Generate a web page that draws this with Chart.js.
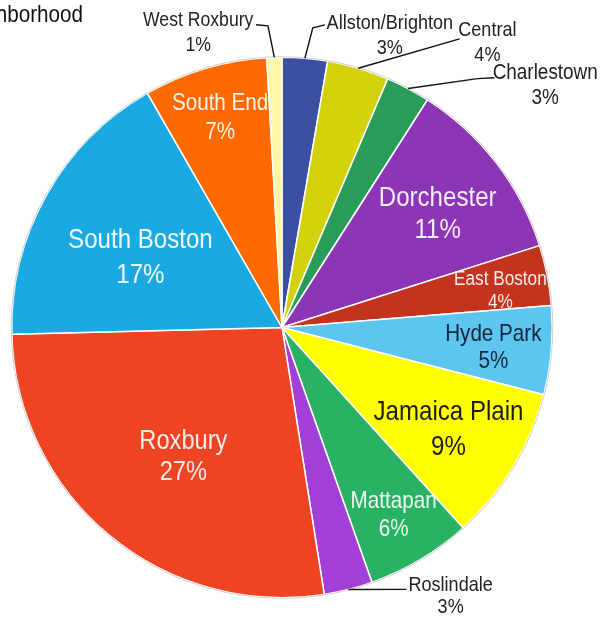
<!DOCTYPE html>
<html>
<head>
<meta charset="utf-8">
<script src="https://cdn.jsdelivr.net/npm/chart.js@4/dist/chart.umd.min.js"></script>
<style>
  html, body { margin: 0; padding: 0; background: #fff; }
  #wrap { width: 600px; height: 617px; position: relative; }
</style>
</head>
<body>
<div id="wrap"><canvas id="pie" width="600" height="617"></canvas></div>
<script>
// data, clockwise from 12 o'clock
const neighborhoods = ['Allston/Brighton', 'Central', 'Charlestown', 'Dorchester', 'East Boston',
    'Hyde Park', 'Jamaica Plain', 'Mattapan', 'Roslindale', 'Roxbury', 'South Boston',
    'South End', 'West Roxbury'];
const shares = [2.7, 3.7, 2.65, 11.05, 3.6, 5.3, 9.3, 6.3, 2.9, 27.1, 17.1, 7.4, 0.9];
const sliceColors = ['#3d4fa0', '#d2d20c', '#2a9c5a', '#8c36b6', '#c3341f', '#5cc6ee',
    '#ffff00', '#29b263', '#a23fd6', '#ee4423', '#1aa9e2', '#ff6a00', '#fff6a8'];
const chartTitle = 'Neighborhood';

// label layout: block centre as fraction of radius from pie centre
const labelStyle = [
    { fx: 0.399, fy: -1.081, size: 21, gap: 25, color: '#222', leader: [[0.159, -1.120], [0.114, -1.109]] },
    { fx: 0.760, fy: -1.052, size: 21, gap: 25, color: '#222', leader: [[0.657, -1.068]] },
    { fx: 0.974, fy: -0.897, size: 22, gap: 25, color: '#222', leader: [[0.786, -0.924], [0.723, -0.921]] },
    { fx: 0.576, fy: -0.419, size: 28, gap: 32, color: '#f4ecf8' },
    { fx: 0.808, fy: -0.135, size: 20, gap: 23, color: '#fbeeea' },
    { fx: 0.782, fy: 0.076, size: 24, gap: 27, color: '#15223d' },
    { fx: 0.616, fy: 0.378, size: 28, gap: 35, color: '#1c1c10' },
    { fx: 0.413, fy: 0.695, size: 24, gap: 28, color: '#eefaf2' },
    { fx: 0.624, fy: 0.996, size: 21, gap: 22, color: '#222', leader: [[0.461, 0.969]] },
    { fx: -0.365, fy: 0.480, size: 27.5, gap: 31, color: '#fbece8' },
    { fx: -0.524, fy: -0.258, size: 28, gap: 35, color: '#f2fbff' },
    { fx: -0.229, fy: -0.777, size: 24, gap: 29, color: '#fff2e8' },
    { fx: -0.310, fy: -1.089, size: 20.5, gap: 25, color: '#222', leader: [[-0.096, -1.120], [-0.052, -1.116]] }
];

const FONT = '"Liberation Sans", Arial, sans-serif';
const SQUEEZE = 0.86;

function drawText(ctx, text, x, y, size, color) {
    ctx.save();
    ctx.translate(x, y);
    ctx.scale(SQUEEZE, 1);
    ctx.font = size + 'px ' + FONT;
    ctx.fillStyle = color;
    ctx.textAlign = 'center';
    ctx.textBaseline = 'middle';
    ctx.fillText(text, 0, 0);
    ctx.restore();
}

const sliceLabels = {
    id: 'sliceLabels',
    afterDatasetsDraw(chart) {
        const ctx = chart.ctx;
        const arcs = chart.getDatasetMeta(0).data;
        const cx = arcs[0].x, cy = arcs[0].y, r = arcs[0].outerRadius;

        // faint rim
        ctx.save();
        ctx.beginPath();
        ctx.arc(cx, cy, r + 0.5, 0, Math.PI * 2);
        ctx.strokeStyle = 'rgba(150,150,150,0.45)';
        ctx.lineWidth = 1;
        ctx.stroke();
        ctx.restore();

        arcs.forEach((arc, i) => {
            const st = labelStyle[i];
            const bx = cx + st.fx * r, by = cy + st.fy * r;
            const pct = Math.round(shares[i]) + '%';

            if (st.leader) {
                const mid = (arc.startAngle + arc.endAngle) / 2;
                ctx.save();
                ctx.beginPath();
                st.leader.forEach((p, k) => {
                    const px = cx + p[0] * r, py = cy + p[1] * r;
                    k === 0 ? ctx.moveTo(px, py) : ctx.lineTo(px, py);
                });
                ctx.lineTo(cx + Math.cos(mid) * r, cy + Math.sin(mid) * r);
                ctx.strokeStyle = '#111';
                ctx.lineWidth = 1.4;
                ctx.stroke();
                ctx.restore();
            }

            drawText(ctx, neighborhoods[i], bx, by - st.gap / 2, st.size, st.color);
            drawText(ctx, pct, bx, by + st.gap / 2, st.size, st.color);
        });

        // title, cut off by the left edge as in the source
        ctx.save();
        ctx.translate(83, 15);
        ctx.scale(SQUEEZE, 1);
        ctx.font = '24px ' + FONT;
        ctx.fillStyle = '#111';
        ctx.textAlign = 'right';
        ctx.textBaseline = 'middle';
        ctx.fillText(chartTitle, 0, 0);
        ctx.restore();
    }
};

new Chart(document.getElementById('pie'), {
    type: 'pie',
    data: {
        labels: neighborhoods,
        datasets: [{
            data: shares,
            backgroundColor: sliceColors,
            borderColor: '#ffffff',
            borderWidth: 1.5
        }]
    },
    options: {
        responsive: false,
        animation: false,
        layout: { padding: { left: 11, top: 56, right: 47, bottom: 18 } },
        plugins: {
            legend: { display: false },
            tooltip: { enabled: false },
            title: { display: false }
        }
    },
    plugins: [sliceLabels]
});
</script>
</body>
</html>
